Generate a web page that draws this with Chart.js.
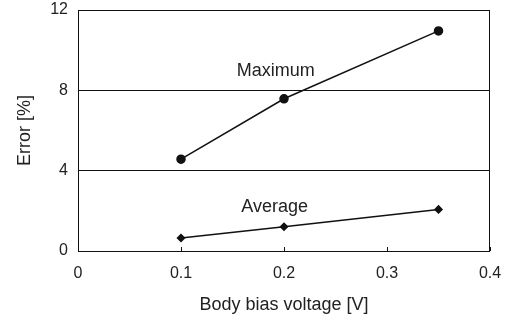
<!DOCTYPE html>
<html>
<head>
<meta charset="utf-8">
<script src="https://cdn.jsdelivr.net/npm/chart.js@4/dist/chart.umd.min.js"></script>
<style>
    html, body { margin: 0; padding: 0; background: #fff; }
    #chart { display: block; }
</style>
</head>
<body>
<canvas id="chart" width="510" height="323"></canvas>
<script>
// data
const voltages = [0.1, 0.2, 0.35];
const maxError = [4.57, 7.58, 10.96];
const avgError = [0.65, 1.21, 2.07];
const xTickLabels = ['0', '0.1', '0.2', '0.3', '0.4'];
const yTickLabels = ['0', '4', '8', '12'];
const seriesNames = ['Maximum', 'Average'];
const labelX = [0.192, 0.191];
const labelY = [8.96, 2.19];

const FONT = "'Liberation Sans', Arial, Helvetica, sans-serif";
const TEXT = '#222';

const toPoints = (xs, ys) => xs.map((x, i) => ({ x: x, y: ys[i] }));

// frame, inner x ticks and the in-plot series labels
const framePlugin = {
    id: 'frame',
    afterDraw(chart) {
        const { ctx, chartArea: a, scales: { x, y } } = chart;
        ctx.save();
        ctx.strokeStyle = '#111';
        ctx.lineWidth = 1;
        ctx.strokeRect(a.left + 0.5, a.top + 0.5, a.right - a.left - 1, a.bottom - a.top);
        x.ticks.forEach(t => {
            const px = Math.round(x.getPixelForValue(t.value)) + 0.5;
            ctx.beginPath();
            ctx.moveTo(px, a.bottom);
            ctx.lineTo(px, a.bottom - 4);
            ctx.stroke();
        });
        ctx.fillStyle = TEXT;
        ctx.font = '18px ' + FONT;
        ctx.textAlign = 'center';
        ctx.textBaseline = 'middle';
        seriesNames.forEach((name, i) => {
            ctx.fillText(name, x.getPixelForValue(labelX[i]), y.getPixelForValue(labelY[i]));
        });
        ctx.restore();
    }
};

new Chart(document.getElementById('chart'), {
    type: 'scatter',
    data: {
        datasets: [{
            label: seriesNames[0],
            data: toPoints(voltages, maxError),
            showLine: true,
            borderColor: '#111',
            backgroundColor: '#111',
            borderWidth: 1.5,
            pointStyle: 'circle',
            pointRadius: 4,
            pointHoverRadius: 4
        }, {
            label: seriesNames[1],
            data: toPoints(voltages, avgError),
            showLine: true,
            borderColor: '#111',
            backgroundColor: '#111',
            borderWidth: 1.5,
            pointStyle: 'rectRot',
            pointRadius: 3.5,
            pointHoverRadius: 3.5
        }]
    },
    options: {
        responsive: false,
        devicePixelRatio: 1,
        animation: false,
        layout: { padding: { left: 0, top: 10, right: 20, bottom: 0 } },
        plugins: {
            legend: { display: false },
            tooltip: { enabled: false }
        },
        scales: {
            x: {
                type: 'linear',
                min: 0,
                max: 0.4,
                afterFit: s => {
                    s.height = 72;
                    s.paddingLeft = 0;
                    s.paddingRight = 0;
                },
                grid: { display: false, drawTicks: false },
                border: { display: false },
                ticks: {
                    stepSize: 0.1,
                    padding: 13,
                    color: TEXT,
                    font: { family: FONT, size: 16 },
                    maxRotation: 0,
                    callback: (v, i) => xTickLabels[i]
                },
                title: {
                    display: true,
                    text: 'Body bias voltage [V]',
                    color: TEXT,
                    font: { family: FONT, size: 18 },
                    padding: { top: 0, bottom: 7 }
                }
            },
            y: {
                min: 0,
                max: 12,
                afterFit: s => {
                    s.width = 78;
                    s.paddingTop = 0;
                    s.paddingBottom = 0;
                },
                grid: { color: '#111', lineWidth: 1, drawTicks: false },
                border: { display: false },
                ticks: {
                    stepSize: 4,
                    padding: 10,
                    color: TEXT,
                    font: { family: FONT, size: 16 },
                    callback: (v, i) => yTickLabels[i]
                },
                title: {
                    display: true,
                    text: 'Error [%]',
                    color: TEXT,
                    font: { family: FONT, size: 18 },
                    padding: { top: 14, bottom: 0 }
                }
            }
        }
    },
    plugins: [framePlugin]
});
</script>
</body>
</html>
